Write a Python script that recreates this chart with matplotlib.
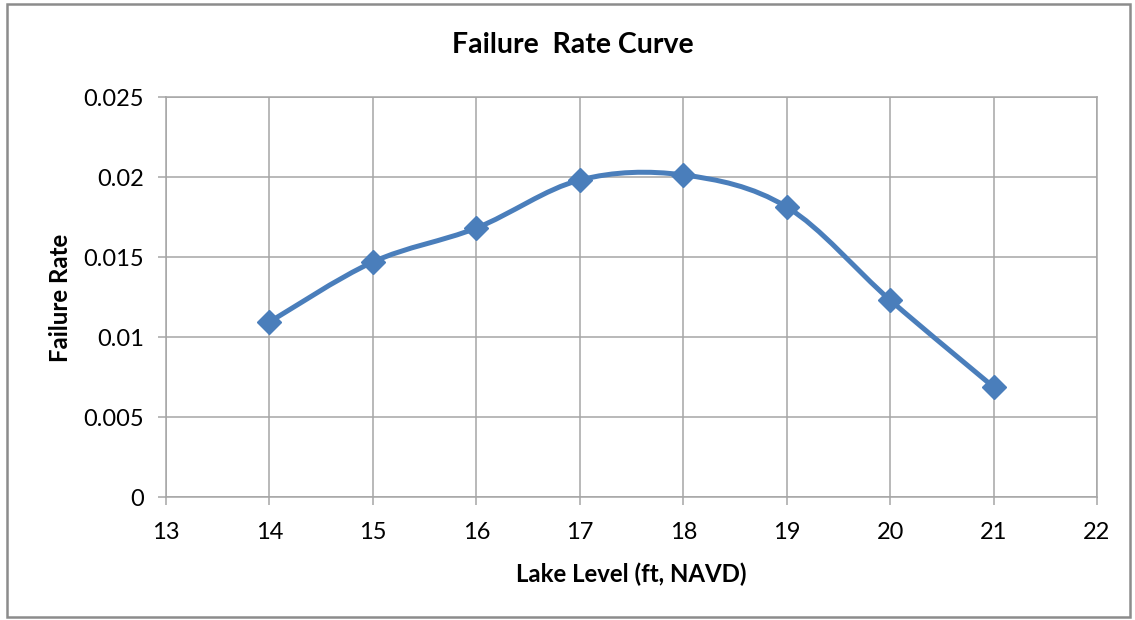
import matplotlib
matplotlib.use("Agg")
import matplotlib.pyplot as plt
from matplotlib.path import Path
from matplotlib.patches import PathPatch, Rectangle

lake_level = [14, 15, 16, 17, 18, 19, 20, 21]
failure_rate = [0.01094, 0.01469, 0.01681, 0.01981, 0.02013, 0.01813, 0.01231, 0.006875]
x_ticks = [13, 14, 15, 16, 17, 18, 19, 20, 21, 22]
y_ticks = [0, 0.005, 0.01, 0.015, 0.02, 0.025]
y_tick_labels = ["0", "0.005", "0.01", "0.015", "0.02", "0.025"]

plt.rcParams['font.family'] = ['Lato', 'DejaVu Sans']
LINE = '#4a7ebb'
GRID = '#a6a6a6'

fig = plt.figure(figsize=(11.35, 6.2), dpi=100)
fig.patches.append(Rectangle((7/1135, 3/620), 1123/1135, 613/620, transform=fig.transFigure,
                             fill=False, edgecolor='#8c8c8c', linewidth=1.8))
ax = fig.add_axes([166/1135, 1 - 497/620, (1097 - 166)/1135, (497 - 97)/620])

ax.set_xlim(13, 22)
ax.set_ylim(0, 0.025)
ax.set_xticks(x_ticks)
ax.set_xticklabels([str(t) for t in x_ticks])
ax.set_yticks(y_ticks)
ax.set_yticklabels(y_tick_labels)
ax.grid(True, color=GRID, linewidth=1.1)
ax.set_axisbelow(True)
for s in ax.spines.values():
    s.set_color(GRID)
    s.set_linewidth(1.1)
ax.tick_params(axis='both', direction='out', length=6, width=1.1, color=GRID,
               labelsize=17, labelcolor='#000000')
ax.tick_params(axis='x', pad=12)
ax.tick_params(axis='y', pad=10)

# Excel-style smoothed line (cubic Bezier through data points)
pts = list(zip(lake_level, failure_rate))
n = len(pts)
verts = [pts[0]]
codes = [Path.MOVETO]
for i in range(n - 1):
    p0 = pts[i - 1] if i > 0 else pts[i]
    p1 = pts[i]
    p2 = pts[i + 1]
    p3 = pts[i + 2] if i + 2 < n else pts[i + 1]
    c1 = (p1[0] + (p2[0] - p0[0]) / 6, p1[1] + (p2[1] - p0[1]) / 6)
    c2 = (p2[0] - (p3[0] - p1[0]) / 6, p2[1] - (p3[1] - p1[1]) / 6)
    verts += [c1, c2, p2]
    codes += [Path.CURVE4] * 3
ax.add_patch(PathPatch(Path(verts, codes), facecolor='none', edgecolor=LINE,
                       linewidth=3.6, capstyle='round', joinstyle='round', zorder=3))
ax.plot(lake_level, failure_rate, linestyle='none', marker='D', markersize=12,
        color=LINE, zorder=4)

fig.text(573/1135, 1 - 45/620, 'Failure  Rate Curve', fontsize=20.5, fontweight='bold',
         ha='center', va='center')
fig.text(631/1135, 1 - 574/620, 'Lake Level (ft, NAVD)', fontsize=17.3, fontweight='bold',
         ha='center', va='center')
fig.text(60/1135, 1 - 298/620, 'Failure Rate', fontsize=17.3, fontweight='bold',
         ha='center', va='center', rotation=90)

fig.savefig('out.png', dpi=100)
